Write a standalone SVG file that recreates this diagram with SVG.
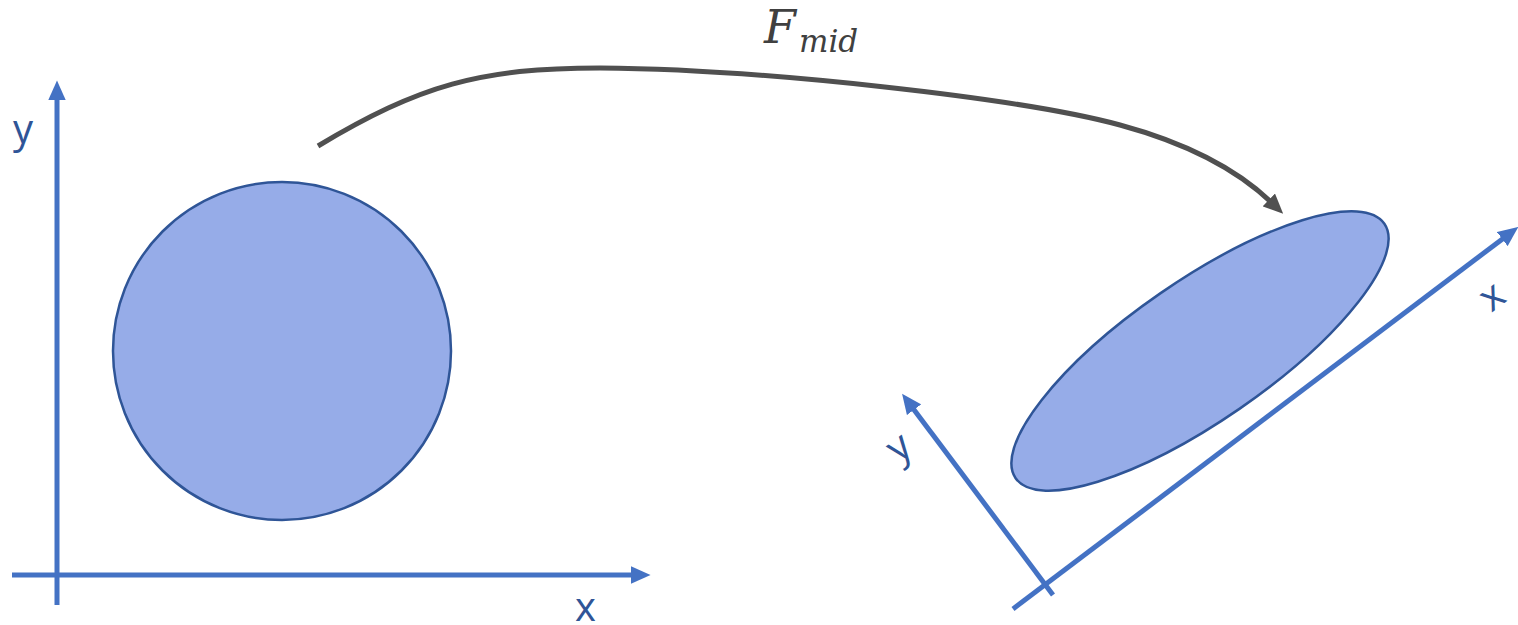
<svg xmlns="http://www.w3.org/2000/svg" width="1518" height="625" viewBox="0 0 1518 625">
<style>
.axis{stroke:#4472C4;stroke-width:5;fill:none}
.shape{fill:#96ACE8;stroke:#2F5597;stroke-width:2.5}
.lbl{font-family:"Open Sans","Noto Sans",sans-serif;font-size:40px;fill:#2F5597}
.math{font-family:"DejaVu Serif",serif;font-style:italic;fill:#404040}
</style>
<defs>
<marker id="ab" markerUnits="userSpaceOnUse" markerWidth="20" markerHeight="18" refX="4" refY="8" orient="auto" viewBox="0 0 18 16">
<path d="M0,0 L18,8 L0,16 z" fill="#4472C4"/>
</marker>
<marker id="ag" markerUnits="userSpaceOnUse" markerWidth="20" markerHeight="18" refX="4" refY="8" orient="auto" viewBox="0 0 18 16">
<path d="M0,0 L18,8 L0,16 z" fill="#505050"/>
</marker>
</defs>
<g id="left-axes">
<line class="axis" x1="57" y1="605" x2="57" y2="96" marker-end="url(#ab)"/>
<line class="axis" x1="12" y1="575" x2="635" y2="575" marker-end="url(#ab)"/>
<text class="lbl" x="13" y="143">y</text>
<text class="lbl" x="575" y="621">x</text>
</g>
<g id="circle">
<circle class="shape" cx="282" cy="351" r="169"/>
</g>
<g id="right-axes">
<line class="axis" x1="1013" y1="609" x2="1505.8" y2="236.4" marker-end="url(#ab)"/>
<line class="axis" x1="1053" y1="595" x2="911.4" y2="406.2" marker-end="url(#ab)"/>
<text class="lbl" text-anchor="middle" transform="translate(1493,298) rotate(-37)" x="0" y="11">x</text>
<text class="lbl" text-anchor="middle" transform="translate(903,453) rotate(-37)" x="0" y="6">y</text>
</g>
<g id="ellipse">
<ellipse class="shape" cx="1200" cy="351" rx="224" ry="70" transform="rotate(-34.6 1200 351)"/>
</g>
<g id="connectors">
<path d="M318,146 C420,85 480,68 600,68 C760,69 1020,98 1120,125 C1190,144 1240,172 1272,203" fill="none" stroke="#505050" stroke-width="5" marker-end="url(#ag)"/>
</g>
<g id="label">
<text class="math" x="764" y="43" font-size="46">F</text>
<text class="math" x="799" y="52" font-size="31">mid</text>
</g>
</svg>
